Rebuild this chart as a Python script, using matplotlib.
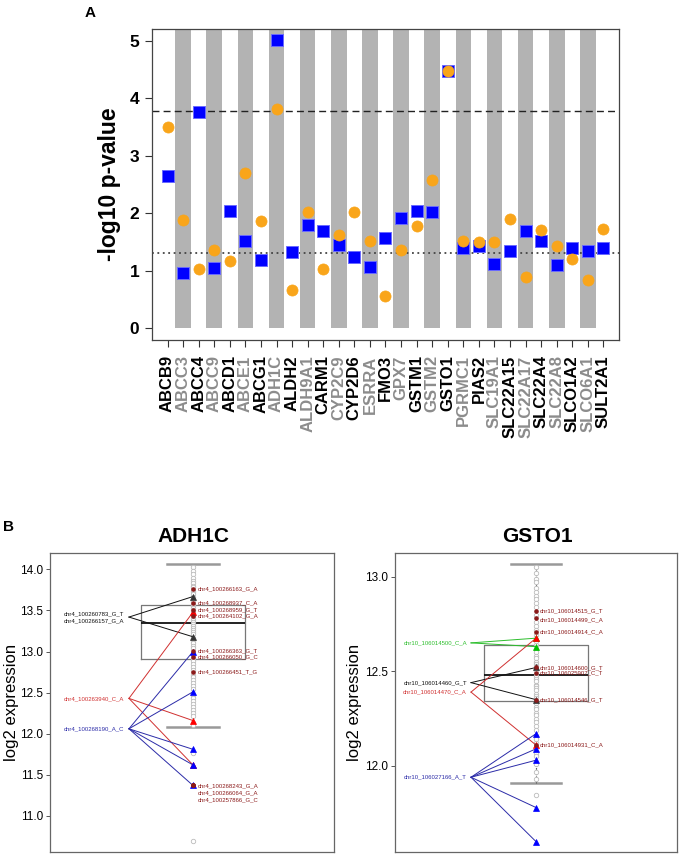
import matplotlib
matplotlib.use('Agg')
import matplotlib.pyplot as plt
import numpy as np

plt.rcParams['font.family'] = ['Liberation Sans', 'DejaVu Sans']

# ---------------- Panel A data ----------------
genes = ["ABCB9", "ABCC3", "ABCC4", "ABCC9", "ABCD1", "ABCE1", "ABCG1", "ADH1C",
         "ALDH2", "ALDH9A1", "CARM1", "CYP2C9", "CYP2D6", "ESRRA", "FMO3", "GPX7",
         "GSTM1", "GSTM2", "GSTO1", "PGRMC1", "PIAS2", "SLC19A1", "SLC22A15",
         "SLC22A17", "SLC22A4", "SLC22A8", "SLCO1A2", "SLCO6A1", "SULT2A1"]
square_vals = [2.64, 0.96, 3.77, 1.04, 2.04, 1.51, 1.19, 5.01, 1.32, 1.80, 1.69,
               1.44, 1.24, 1.07, 1.57, 1.92, 2.03, 2.02, 4.47, 1.39, 1.42, 1.11,
               1.34, 1.69, 1.51, 1.09, 1.39, 1.34, 1.40]
circle_vals = [3.51, 1.89, 1.03, 1.36, 1.17, 2.70, 1.87, 3.82, 0.66, 2.02, 1.02,
               1.62, 2.02, 1.52, 0.55, 1.36, 1.78, 2.58, 4.47, 1.52, 1.50, 1.49,
               1.90, 0.88, 1.70, 1.42, 1.20, 0.84, 1.72]
bonferroni_line = 3.78
nominal_line = 1.30
yticks_A = [0, 1, 2, 3, 4, 5]

# ---------------- Panel B data: ADH1C ----------------
adh_expr = [14.03, 13.98, 13.94, 13.90, 13.86, 13.83, 13.80, 13.78, 13.74, 13.72,
            13.70, 13.66, 13.63, 13.61, 13.57, 13.55, 13.53, 13.50, 13.47, 13.45,
            13.41, 13.39, 13.36, 13.34, 13.31, 13.29, 13.26, 13.24, 13.21, 13.16,
            13.13, 13.10, 13.07, 13.04, 12.98, 12.96, 12.91, 12.88, 12.85, 12.81,
            12.78, 12.72, 12.69, 12.65, 12.62, 12.58, 12.55, 12.47, 12.44, 12.40,
            12.36, 12.33, 12.29, 12.25, 12.21, 12.13, 12.10, 11.77, 10.69]
adh_box = dict(whislo=12.08, q1=12.905, med=13.35, q3=13.57, whishi=14.06)
adh_groups = [
    dict(labels=["chr4_100260783_G_T", "chr4_100266157_G_A"], anchor=13.42,
         targets=[13.67, 13.18], color='#111111', tri='#333333'),
    dict(labels=["chr4_100263940_C_A"], anchor=12.43,
         targets=[13.48, 12.16, 11.62], color='#D03030', tri='#FF0000'),
    dict(labels=["chr4_100268190_A_C"], anchor=12.06,
         targets=[13.00, 12.51, 11.81, 11.62, 11.37], color='#2B2BA8', tri='#0000FF'),
]
adh_right_labels = ["chr4_100266163_G_A", "chr4_100268937_C_A", "chr4_100268959_G_T",
                    "chr4_100264102_G_A", "chr4_100266363_G_T", "chr4_100266050_G_C",
                    "chr4_100266451_T_G", "chr4_100268243_G_A", "chr4_100266064_G_A",
                    "chr4_100257866_G_C"]
adh_right_vals = [13.76, 13.59, 13.51, 13.43, 13.01, 12.93, 12.75, 11.37, 11.37, 11.37]
adh_right_label_y = [13.76, 13.59, 13.51, 13.43, 13.01, 12.93, 12.75, 11.36, 11.28, 11.20]

# ---------------- Panel B data: GSTO1 ----------------
gst_expr = [13.05, 13.02, 12.99, 12.97, 12.94, 12.92, 12.90, 12.88, 12.86, 12.84,
            12.80, 12.76, 12.74, 12.72, 12.69, 12.66, 12.64, 12.62, 12.60, 12.58,
            12.57, 12.55, 12.54, 12.53, 12.51, 12.50, 12.48, 12.47, 12.46, 12.45,
            12.43, 12.42, 12.41, 12.40, 12.38, 12.37, 12.36, 12.34, 12.33, 12.31,
            12.30, 12.28, 12.27, 12.25, 12.23, 12.21, 12.19, 12.16, 12.14, 12.12,
            12.07, 12.05, 12.01, 11.97, 11.93, 11.845]
gst_box = dict(whislo=11.91, q1=12.345, med=12.48, q3=12.64, whishi=13.065)
gst_groups = [
    dict(labels=["chr10_106014500_C_A"], anchor=12.65,
         targets=[12.675, 12.63], color='#2DBE2D', tri='#00C000'),
    dict(labels=["chr10_106014460_G_T"], anchor=12.44,
         targets=[12.52, 12.35], color='#111111', tri='#333333'),
    dict(labels=["chr10_106014470_C_A"], anchor=12.39,
         targets=[12.675, 12.11], color='#D03030', tri='#FF0000'),
    dict(labels=["chr10_106027166_A_T"], anchor=11.94,
         targets=[12.17, 12.09, 12.03, 11.78, 11.60], color='#2B2BA8', tri='#0000FF'),
]
gst_right_labels = ["chr10_106014515_G_T", "chr10_106014499_C_A", "chr10_106014914_C_A",
                    "chr10_106014600_G_T", "chr10_106025907_C_T", "chr10_106014546_G_T",
                    "chr10_106014931_C_A"]
gst_right_vals = [12.82, 12.78, 12.71, 12.52, 12.49, 12.35, 12.11]
gst_right_label_y = [12.82, 12.77, 12.71, 12.52, 12.49, 12.35, 12.11]

# ================= Figure =================
fig = plt.figure(figsize=(6.8, 8.56), dpi=100)

# ---- Panel A ----
axA = fig.add_axes([0.2235, 0.6028, 0.6868, 0.3633])
x = np.arange(1, len(genes) + 1)
axA.bar(x[1::2], 5.5, width=1.0, bottom=0, color='#B3B3B3', zorder=1)
axA.axhline(bonferroni_line, ls=(0, (5, 3)), color='#222222', lw=1.0, zorder=2)
axA.axhline(nominal_line, ls=(0, (1, 2)), color='#444444', lw=1.3, zorder=2)
axA.plot(x, square_vals, 's', ms=8, mfc='#0000FF', mec='#6A6AFF', mew=0.7, zorder=3, ls='none')
axA.plot(x, circle_vals, 'o', ms=8, mfc='#F9A51A', mec='#F9A51A', mew=0.5, zorder=4, ls='none')
axA.set_xlim(0, 30)
axA.set_ylim(-0.21, 5.21)
axA.set_xticks(x)
axA.set_xticklabels(genes, rotation=90, fontsize=12, fontweight='bold')
for i, lab in enumerate(axA.get_xticklabels()):
    lab.set_color('#8C8C8C' if i % 2 == 1 else 'black')
axA.set_yticks(yticks_A)
axA.set_yticklabels([str(v) for v in yticks_A], fontsize=12.5, fontweight='bold')
axA.tick_params(axis='both', direction='out', length=5, width=0.8, color='#333333', pad=4)
axA.tick_params(axis='x', pad=6)
axA.set_ylabel('-log10 p-value', fontsize=16.5, fontweight='bold', labelpad=6)
for s in axA.spines.values():
    s.set_color('#444444')
    s.set_linewidth(0.9)
fig.text(90 / 680, 1 - 13 / 856, 'A', fontsize=11, fontweight='bold', ha='center', va='center')


def panel_b(rect, title, expr, box, groups, rlabels, rvals, rlab_y, ylim, yticks,
            center, box_w, cap_w, anchor_x, ltext_x, rtext_x, title_x, lpad):
    ax = fig.add_axes(rect)
    ax.set_xlim(0, 1)
    ax.set_ylim(*ylim)
    stats = dict(box)
    stats['fliers'] = []
    ax.bxp([stats], positions=[center], widths=box_w, capwidths=cap_w, showfliers=False,
           boxprops=dict(color='#777777', lw=0.9),
           whiskerprops=dict(color='#555555', lw=0.8, ls=(0, (1, 1.5))),
           capprops=dict(color='#999999', lw=1.8),
           medianprops=dict(color='#111111', lw=1.3), manage_ticks=False)
    ax.plot([center, center], [box['whislo'], box['whishi']], color='#555555', lw=0.8,
            ls=(0, (1, 1.5)), zorder=2)
    ax.plot([center] * len(expr), expr, 'o', ms=3.2, mfc='white', mec='#BBBBBB', mew=0.6,
            ls='none', zorder=3)
    for g in groups:
        for t in g['targets']:
            ax.plot([anchor_x, center], [g['anchor'], t], color=g['color'], lw=0.7, zorder=4)
        ax.plot([center] * len(g['targets']), g['targets'], '^', ms=4.5, mfc=g['tri'],
                mec=g['tri'], mew=0.5, ls='none', zorder=5)
        n = len(g['labels'])
        offs = [0.045 * (k - (n - 1) / 2) for k in range(n)]
        for lab, o in zip(g['labels'], offs):
            ax.text(ltext_x, g['anchor'] - o * (ylim[1] - ylim[0]) / 2.0, lab,
                    fontsize=4.3, color=g['color'], ha='right', va='center')
    ax.plot([center] * len(rvals), rvals, 'o', ms=2.3, mfc='#8B1A1A', mec='#8B1A1A',
            ls='none', zorder=6)
    for lab, yv in zip(rlabels, rlab_y):
        ax.text(rtext_x, yv, lab, fontsize=4.3, color='#8B1A1A', ha='left', va='center', zorder=7)
    ax.set_xticks([])
    ax.set_yticks(yticks)
    ax.set_yticklabels([f'{v:.1f}' for v in yticks], fontsize=8.5)
    ax.tick_params(axis='y', direction='out', length=3, width=0.7, color='#555555', pad=2)
    ax.set_ylabel('log2 expression', fontsize=12, labelpad=lpad)
    for s in ax.spines.values():
        s.set_color('#666666')
        s.set_linewidth(0.9)
    fig.text(title_x, 1 - 537 / 856, title, fontsize=15, fontweight='bold',
             ha='center', va='center')
    return ax


panel_b([50 / 680, 4 / 856, 284 / 680, 299 / 856], 'ADH1C', adh_expr, adh_box, adh_groups,
        adh_right_labels, adh_right_vals, adh_right_label_y, (10.56, 14.20),
        [11.0, 11.5, 12.0, 12.5, 13.0, 13.5, 14.0],
        0.5035, 0.366, 0.18, 0.278, 0.262, 0.52, 193 / 680, 0.5)
panel_b([395 / 680, 4 / 856, 282 / 680, 299 / 856], 'GSTO1', gst_expr, gst_box, gst_groups,
        gst_right_labels, gst_right_vals, gst_right_label_y, (11.545, 13.125),
        [12.0, 12.5, 13.0],
        0.5, 0.369, 0.18, 0.2695, 0.255, 0.515, 537 / 680, 2.5)

fig.text(9 / 680, 1 - 527 / 856, 'B', fontsize=11, fontweight='bold', ha='center', va='center')

fig.savefig('out.png', dpi=100)
